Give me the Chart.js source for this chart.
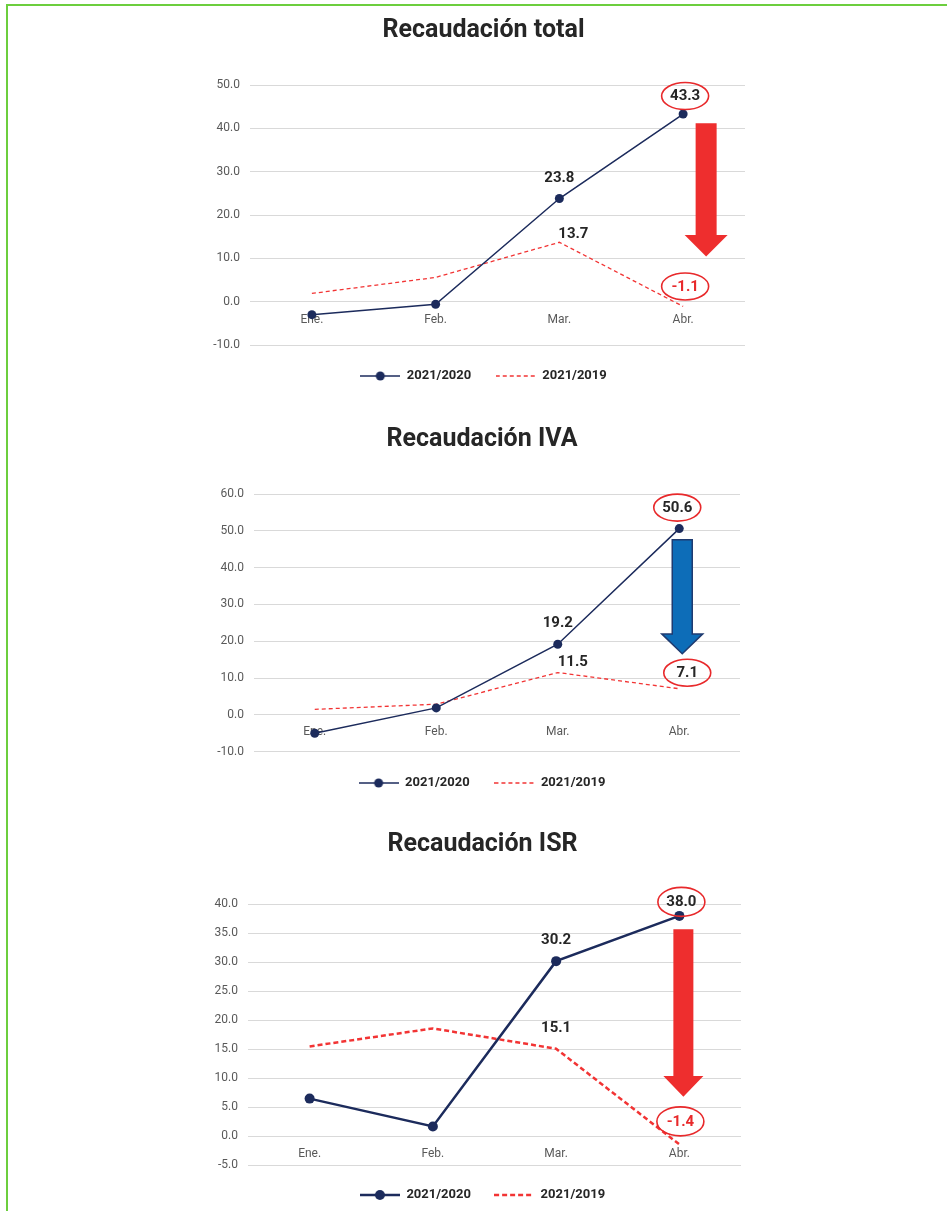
<!DOCTYPE html>
<html>
<head>
<meta charset="utf-8">
<title>Recaudación</title>
<script src="https://cdn.jsdelivr.net/npm/chart.js@4.4.0/dist/chart.umd.min.js"></script>
<style>
  html, body { margin: 0; padding: 0; background: #ffffff; }
  body { width: 947px; height: 1211px; position: relative; overflow: hidden; font-family: Roboto, sans-serif; }
  .frame { position: absolute; left: 6px; top: 4px; right: -10px; bottom: -10px;
           border-left: 2px solid #6cce3e; border-top: 2px solid #6cce3e; }
  canvas { position: absolute; left: 0; }
</style>
</head>
<body>
<div class="frame"></div>
<canvas id="cTotal" width="947" height="400" style="top:0px"></canvas>
<canvas id="cIva" width="947" height="405" style="top:400px"></canvas>
<canvas id="cIsr" width="947" height="407" style="top:805px"></canvas>

<script>
// ---- data -------------------------------------------------------------
const months = ['Ene.', 'Feb.', 'Mar.', 'Abr.'];
const seriesNames = ['2021/2020', '2021/2019'];

const total2020 = [-3.0, -0.6, 23.8, 43.3];
const total2019 = [1.9, 5.6, 13.7, -1.1];

const iva2020 = [-5.0, 1.9, 19.2, 50.6];
const iva2019 = [1.5, 2.9, 11.5, 7.1];

const isr2020 = [6.5, 1.7, 30.2, 38.0];
const isr2019 = [15.5, 18.6, 15.1, -1.4];

const totalTicks = [-10, 0, 10, 20, 30, 40, 50];
const ivaTicks = [-10, 0, 10, 20, 30, 40, 50, 60];
const isrTicks = [-5, 0, 5, 10, 15, 20, 25, 30, 35, 40];

const titles = ['Recaudación total', 'Recaudación IVA', 'Recaudación ISR'];

// ---- styling ----------------------------------------------------------
const NAVY = '#1c2b5c';
const RED_LINE = '#f23434';
const RED = '#e8292b';
const ARROW_RED = '#ee2e2e';
const TEXT = '#262626';
const AXIS_TEXT = '#595959';
const GRID = '#d9d9d9';

Chart.defaults.font.family = 'Roboto, "Liberation Sans", sans-serif';
Chart.defaults.devicePixelRatio = 1;

// value labels, optionally circled
const callouts = {
  id: 'callouts',
  afterDatasetsDraw(chart, args, opts) {
    const ctx = chart.ctx;
    (opts.items || []).forEach(it => {
      const el = chart.getDatasetMeta(it.ds).data[it.i];
      const v = chart.data.datasets[it.ds].data[it.i];
      const x = el.x + it.dx;
      const y = el.y + it.dy;
      ctx.save();
      if (it.ring) {
        ctx.beginPath();
        ctx.ellipse(x, y, it.rx || 23.5, it.ry || 13.5, 0, 0, Math.PI * 2);
        ctx.lineWidth = 1.6;
        ctx.strokeStyle = RED;
        ctx.stroke();
      }
      ctx.font = 'bold 15px Roboto, sans-serif';
      ctx.fillStyle = it.color || TEXT;
      ctx.textAlign = 'center';
      ctx.textBaseline = 'middle';
      ctx.fillText(v.toFixed(1), x, y + 0.5);
      ctx.restore();
    });
  }
};

// downward arrow placed on the scales
const dropArrow = {
  id: 'dropArrow',
  afterDatasetsDraw(chart, args, o) {
    if (!o || o.from === undefined) return;
    const ctx = chart.ctx;
    const xs = chart.scales.x, ys = chart.scales.y;
    const cx = xs.getPixelForValue(o.at) + o.dx;
    const y0 = ys.getPixelForValue(o.from);
    const y1 = ys.getPixelForValue(o.neck);
    const y2 = ys.getPixelForValue(o.to);
    ctx.save();
    ctx.beginPath();
    ctx.moveTo(cx - o.shaft, y0);
    ctx.lineTo(cx + o.shaft, y0);
    ctx.lineTo(cx + o.shaft, y1);
    ctx.lineTo(cx + o.head, y1);
    ctx.lineTo(cx, y2);
    ctx.lineTo(cx - o.head, y1);
    ctx.lineTo(cx - o.shaft, y1);
    ctx.closePath();
    ctx.fillStyle = o.fill;
    ctx.fill();
    if (o.stroke) {
      ctx.lineWidth = 1.5;
      ctx.strokeStyle = o.stroke;
      ctx.lineJoin = 'miter';
      ctx.stroke();
    }
    ctx.restore();
  }
};

// legend swatch: short line with optional marker
function legendIcon(color, width, dash, dot) {
  const c = document.createElement('canvas');
  c.width = 40; c.height = 12;
  const g = c.getContext('2d');
  g.strokeStyle = color;
  g.lineWidth = width;
  g.setLineDash(dash || []);
  g.beginPath();
  g.moveTo(0, 6);
  g.lineTo(40, 6);
  g.stroke();
  if (dot) {
    g.setLineDash([]);
    g.fillStyle = color;
    g.beginPath();
    g.arc(20, 6, dot, 0, Math.PI * 2);
    g.fill();
  }
  return c;
}

function buildChart(id, title, s2020, s2019, ticks, look, items, arrow) {
  const icons = [
    legendIcon(NAVY, look.navyWidth, null, look.dot),
    legendIcon(RED_LINE, look.redWidth, look.dash)
  ];
  return new Chart(document.getElementById(id), {
    type: 'line',
    data: {
      labels: months,
      datasets: [
        {
          label: seriesNames[0],
          data: s2020,
          borderColor: NAVY,
          backgroundColor: NAVY,
          borderWidth: look.navyWidth,
          pointRadius: look.dot,
          pointBackgroundColor: NAVY,
          pointBorderWidth: 0,
          tension: 0,
          order: 1
        },
        {
          label: seriesNames[1],
          data: s2019,
          borderColor: RED_LINE,
          borderWidth: look.redWidth,
          borderDash: look.dash,
          pointRadius: 0,
          tension: 0,
          order: 2
        }
      ]
    },
    options: {
      responsive: false,
      animation: false,
      events: [],
      layout: { padding: { left: look.padL, right: look.padR, top: 0, bottom: look.padB } },
      scales: {
        x: {
          type: 'category',
          position: { y: 0 },
          offset: true,
          grid: { display: false, drawTicks: false },
          border: { display: false },
          ticks: {
            color: AXIS_TEXT,
            font: { size: 12 },
            padding: look.xTickPad,
            maxRotation: 0,
            autoSkip: false
          }
        },
        y: {
          min: ticks[0],
          max: ticks[ticks.length - 1],
          afterFit(scale) { scale.width = 60; },
          grid: { color: GRID, lineWidth: 1, drawTicks: false },
          border: { display: false },
          ticks: {
            stepSize: ticks[1] - ticks[0],
            color: AXIS_TEXT,
            font: { size: 12 },
            padding: 10,
            callback: v => Number(v).toFixed(1)
          }
        },
        // empty right-hand gutter that keeps title and legend centred
        gutter: {
          type: 'linear',
          position: 'right',
          display: true,
          afterFit(scale) { scale.width = look.gutter; },
          grid: { display: false, drawTicks: false },
          border: { display: false },
          ticks: { display: false }
        }
      },
      plugins: {
        title: {
          display: true,
          text: title,
          color: TEXT,
          font: { size: 25, weight: 'bold' },
          padding: { top: look.titleTop, bottom: look.titleBottom }
        },
        legend: {
          display: true,
          position: 'bottom',
          labels: {
            usePointStyle: true,
            pointStyleWidth: 40,
            padding: look.legendPad,
            color: TEXT,
            font: { size: 13, weight: 'bold' },
            generateLabels: (chart) => chart.data.datasets.map((ds, i) => ({
              text: ds.label,
              pointStyle: icons[i],
              datasetIndex: i,
              hidden: false,
              fontColor: TEXT,
              fillStyle: 'transparent',
              strokeStyle: 'transparent',
              lineWidth: 0
            }))
          }
        },
        tooltip: { enabled: false },
        callouts: { items: items },
        dropArrow: arrow
      }
    },
    plugins: [callouts, dropArrow]
  });
}

buildChart('cTotal', titles[0], total2020, total2019, totalTicks,
  { padL: 190, padR: 170, gutter: 32, padB: 7.5, titleTop: 16, titleBottom: 39, legendPad: 24.5, xTickPad: 11,
    navyWidth: 1.5, redWidth: 1.3, dash: [4, 3], dot: 4.5 },
  [
    { ds: 0, i: 2, dx: 0, dy: -21 },
    { ds: 1, i: 2, dx: 14, dy: -9 },
    { ds: 0, i: 3, dx: 2, dy: -18, ring: true },
    { ds: 1, i: 3, dx: 2, dy: -20, ring: true, color: RED }
  ],
  { at: 3, dx: 23, from: 41.2, neck: 15.4, to: 10.4, shaft: 10.5, head: 21.5, fill: ARROW_RED }
);

buildChart('cIva', titles[1], iva2020, iva2019, ivaTicks,
  { padL: 194, padR: 177, gutter: 30, padB: 5.5, titleTop: 25, titleBottom: 39, legendPad: 24.8, xTickPad: 10,
    navyWidth: 1.5, redWidth: 1.3, dash: [4, 3], dot: 4.5 },
  [
    { ds: 0, i: 2, dx: 0, dy: -21 },
    { ds: 1, i: 2, dx: 15, dy: -11 },
    { ds: 0, i: 3, dx: -2, dy: -21, ring: true },
    { ds: 1, i: 3, dx: 8, dy: -16, ring: true }
  ],
  { at: 3, dx: 3, from: 47.6, neck: 22, to: 16.6, shaft: 10, head: 20.5, fill: '#0d6db8', stroke: '#1f3b70' }
);

buildChart('cIsr', titles[2], isr2020, isr2019, isrTicks,
  { padL: 188, padR: 170, gutter: 36, padB: 0.5, titleTop: 25, titleBottom: 44.3, legendPad: 23.2, xTickPad: 10,
    navyWidth: 2.5, redWidth: 2.5, dash: [5, 3], dot: 5 },
  [
    { ds: 0, i: 2, dx: 0, dy: -21 },
    { ds: 1, i: 2, dx: 0, dy: -21 },
    { ds: 0, i: 3, dx: 2, dy: -14, ring: true, ry: 14.5 },
    { ds: 1, i: 3, dx: 1, dy: -23, ring: true, ry: 14.5, color: RED }
  ],
  { at: 3, dx: 4, from: 35.7, neck: 10.4, to: 6.8, shaft: 10, head: 20, fill: ARROW_RED }
);
</script>
</body>
</html>
